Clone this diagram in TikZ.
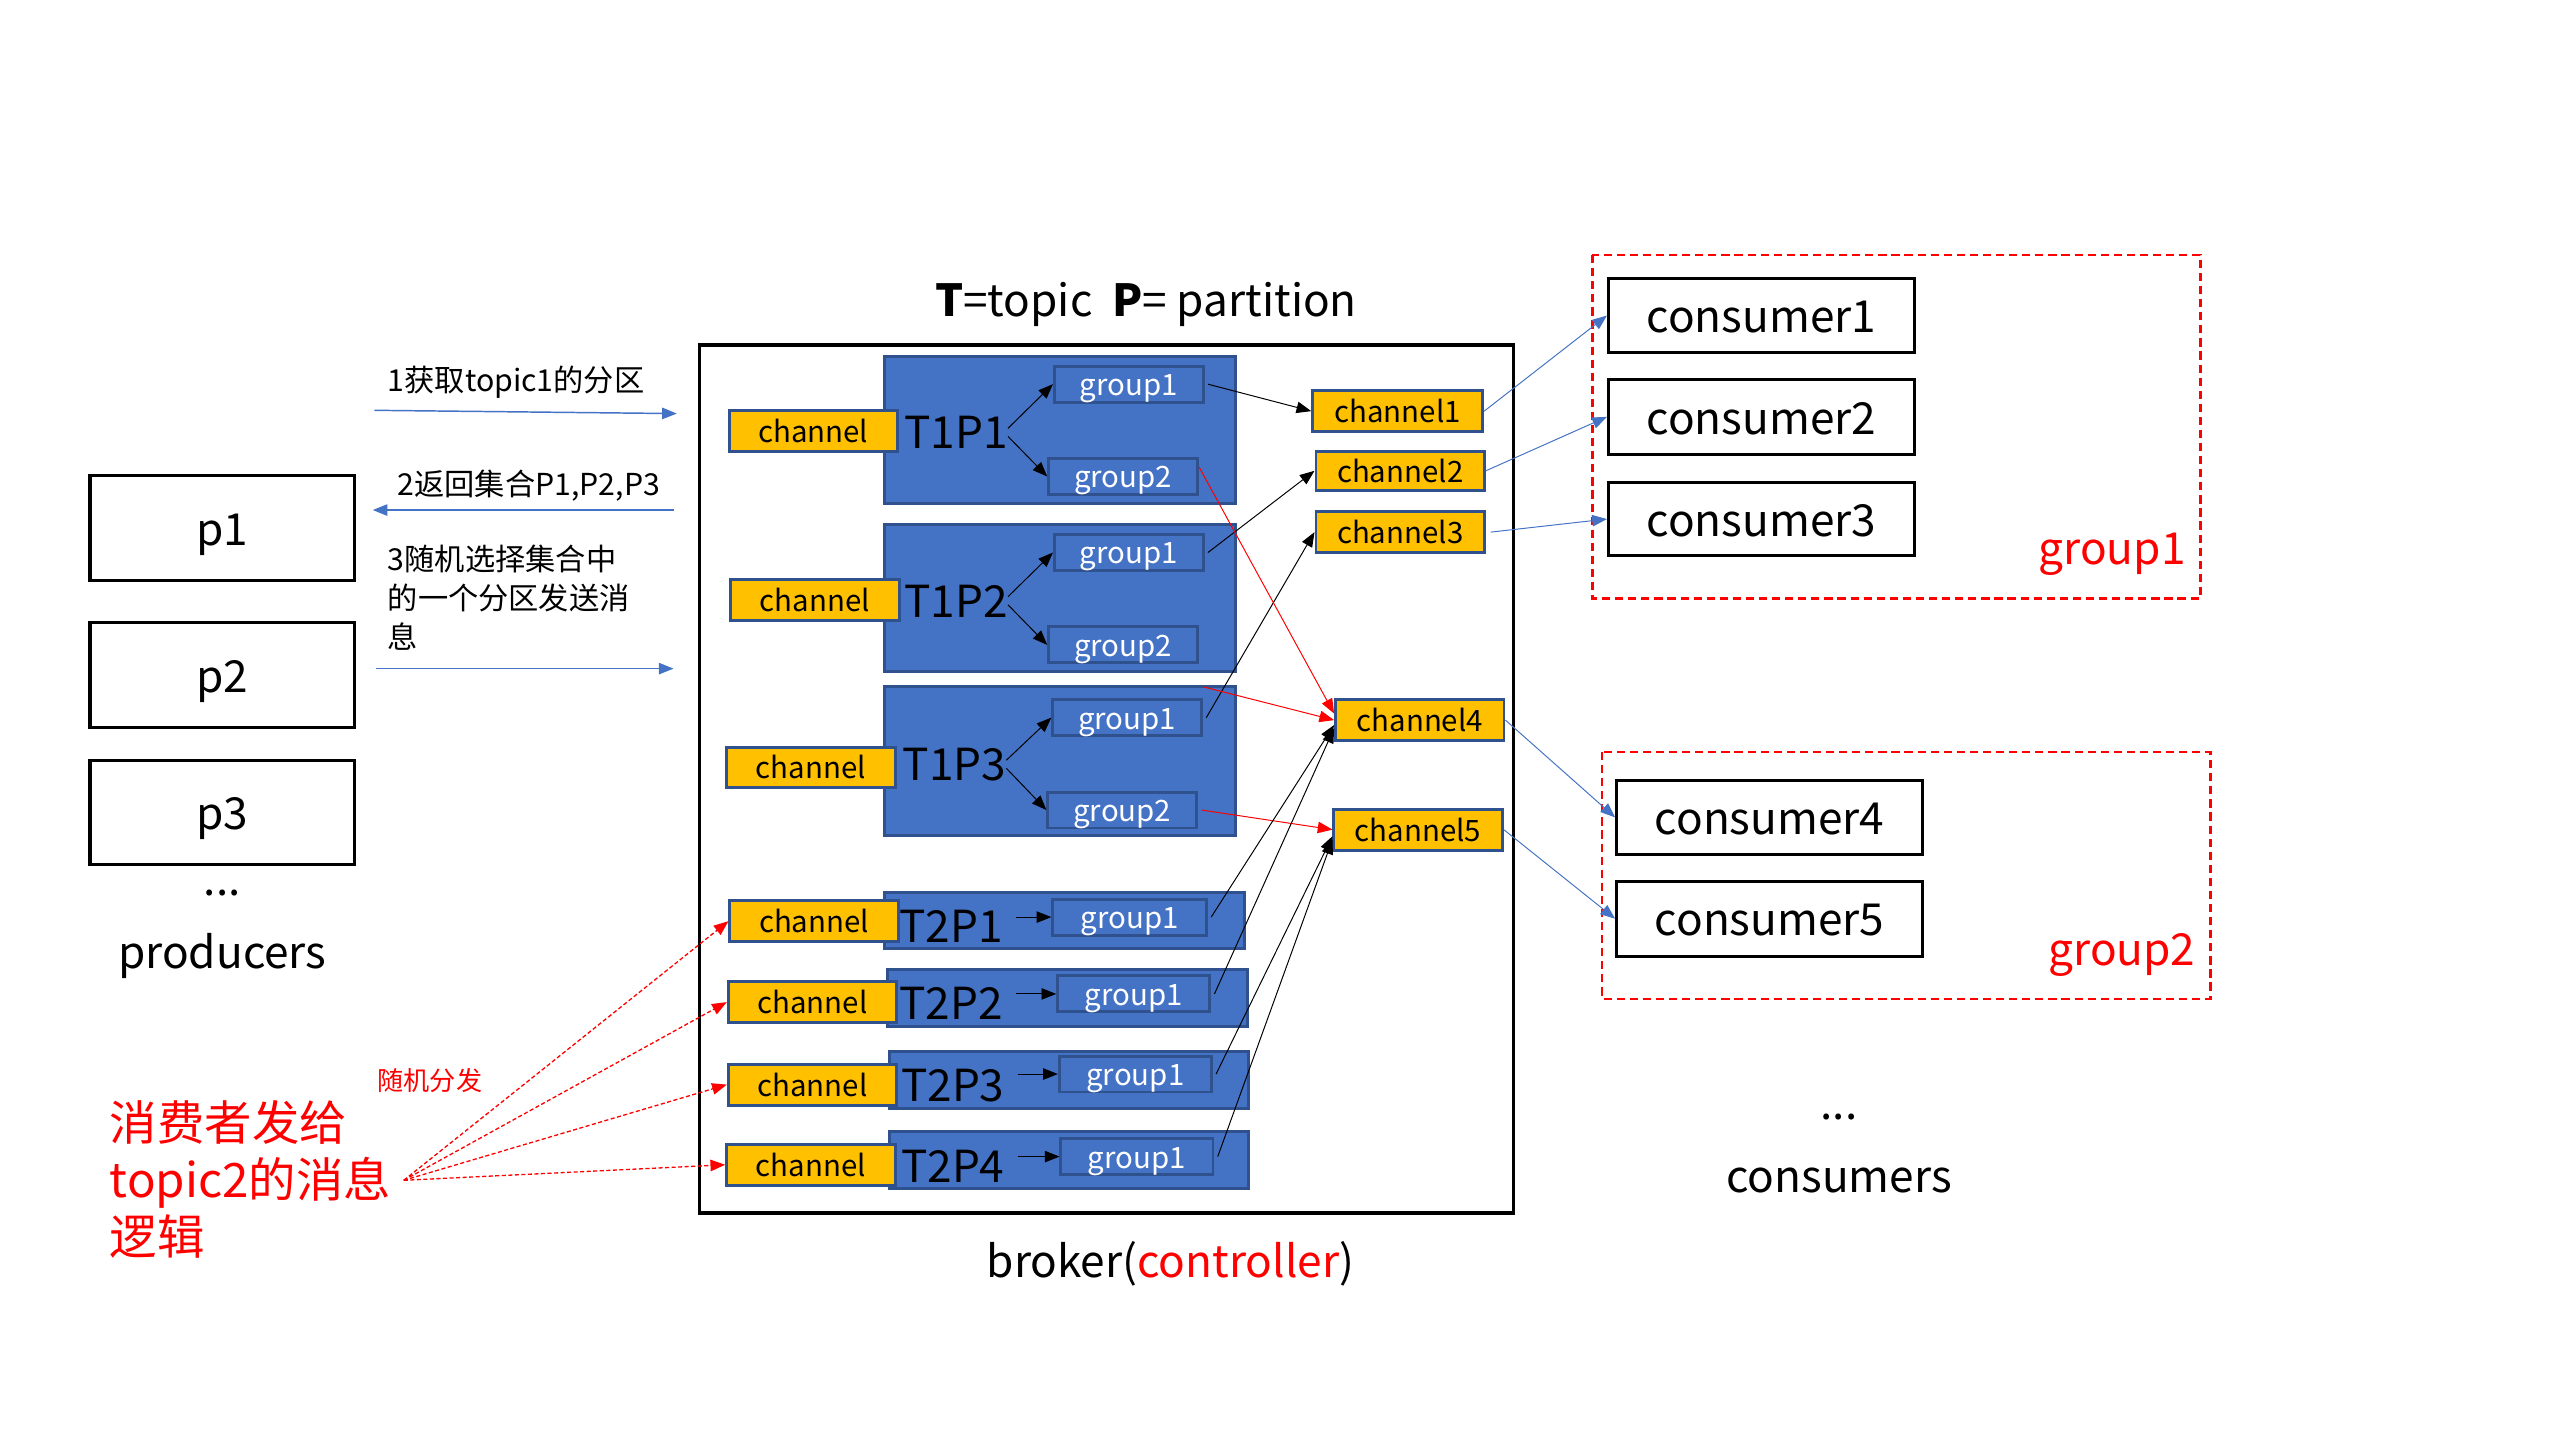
\documentclass[tikz,border=0pt]{standalone}
\usepackage{fontspec}
\setmainfont{Noto Sans CJK SC}
\usetikzlibrary{arrows.meta}
\definecolor{pblue}{HTML}{4472C4}
\definecolor{pedge}{HTML}{2F528F}
\definecolor{pgold}{HTML}{FFC000}

\begin{document}
\begin{tikzpicture}[x=1pt, y=-1pt, line join=miter,
  big/.style = {inner sep=0pt, text height=21pt, text depth=0pt, font=\fontsize{27}{32}\selectfont},
  small/.style = {inner sep=0pt, text height=14.5pt, text depth=0pt, font=\fontsize{18.5}{24}\selectfont},
  box/.style = {draw, line width=2pt, inner sep=0pt, minimum width=187pt, minimum height=45pt, text height=21pt, text depth=0pt, font=\fontsize{27}{32}\selectfont},
  prod/.style = {box, minimum width=162pt, minimum height=64pt},
  part/.style = {draw=pedge, fill=pblue, line width=1.8pt, inner sep=0pt, minimum width=215pt},
  chan/.style = {draw=pedge, fill=pgold, line width=1.8pt, inner sep=0pt, minimum width=103pt, minimum height=25pt, text height=14pt, text depth=0pt, font=\fontsize{18}{20}\selectfont},
  grp/.style = {draw=pedge, fill=pblue, line width=1.8pt, inner sep=0pt, minimum width=91pt, minimum height=22pt, text height=14pt, text depth=0pt, text=white, font=\fontsize{18}{20}\selectfont},
  link/.style = {-{Triangle[length=9pt,width=7pt]}, line width=0.6pt},
  flow/.style = {link, pblue, line width=0.9pt},
  rnd/.style = {link, red, dash pattern=on 2.5pt off 1.5pt, line width=0.8pt},
  gframe/.style = {red, line width=1.6pt, dash pattern=on 5pt off 3pt}]
  \useasboundingbox (0,0) rectangle (1566,881);

  \node[big] (title) at (701,183) {\textbf{T}=topic\ \ \textbf{P}= partition};
  \draw[line width=2pt] (428,211) rectangle (926,742);
  \node[big] (broker) at (716,771) {broker(\textcolor{red}{controller})};

  \node[prod] (p1) at (136,323) {p1};
  \node[prod] (p2) at (136,413) {p2};
  \node[prod] (p3) at (136,497) {p3};
  \node[big, anchor=base, text height=, text depth=] (pdots) at (136,548) {...};
  \node[big] (producers) at (136,582) {producers};

  \node[small, anchor=west] (s1) at (237,232) {1获取topic1的分区};
  \node[small, anchor=west] (s2) at (243,296) {2返回集合P1,P2,P3};
  \node[inner sep=0pt, font=\fontsize{18.5}{24}\selectfont, anchor=north west, align=left] (s3) at (237,333) {3随机选择集合中\\的一个分区发送消\\息};
  \coordinate (a1) at (229,251);
  \coordinate (b1) at (414,253);
  \coordinate (a2) at (412,312);
  \coordinate (b2) at (228,312);
  \coordinate (a3) at (230,409);
  \coordinate (b3) at (412,409);
  \draw[flow] (a1) -- (b1);
  \draw[flow] (a2) -- (b2);
  \draw[flow] (a3) -- (b3);

  \node[part, minimum height=90pt] (P11) at (648.5,263) {};
  \node[part, minimum height=90pt] (P12) at (648.5,366) {};
  \node[part, minimum height=91pt] (P13) at (648.5,465.5) {};
  \node[part, minimum width=220pt, minimum height=34pt] (P21) at (651,563) {};
  \node[part, minimum width=220pt, minimum height=35pt] (P22) at (653,610.5) {};
  \node[part, minimum width=220pt, minimum height=35pt] (P23) at (654,660.5) {};
  \node[part, minimum width=220pt, minimum height=35pt] (P24) at (654,709.5) {};

  \node[chan] (e11) at (497.5,263.5) {channel};
  \node[chan] (e12) at (498.5,367) {channel};
  \node[chan] (e13) at (496,469.5) {channel};
  \node[chan] (e21) at (498,563.5) {channel};
  \node[chan] (e22) at (497,613) {channel};
  \node[chan] (e23) at (497,663.5) {channel};
  \node[chan] (e24) at (496,712.5) {channel};

  \node[big, anchor=west] (l11) at (553,264) {T1P1};
  \node[big, anchor=west] (l12) at (553,367) {T1P2};
  \node[big, anchor=west] (l13) at (552,467) {T1P3};
  \node[big, anchor=west] (l21) at (550,566) {T2P1};
  \node[big, anchor=west] (l22) at (550,613) {T2P2};
  \node[big, anchor=west] (l23) at (551,663) {T2P3};
  \node[big, anchor=west] (l24) at (551,713) {T2P4};

  \node[grp] (g11) at (690.5,235) {group1};
  \node[grp] (g12) at (687,291.5) {group2};
  \node[grp] (g21) at (690.5,338) {group1};
  \node[grp] (g22) at (687,394.5) {group2};
  \node[grp] (g31) at (689.5,439) {group1};
  \node[grp] (g32) at (686.5,495.5) {group2};
  \node[grp, minimum width=94pt] (t21) at (691,561) {group1};
  \node[grp, minimum width=93pt] (t22) at (693.5,608) {group1};
  \node[grp, minimum width=93pt] (t23) at (694.5,657) {group1};
  \node[grp, minimum width=93pt] (t24) at (695.5,707.5) {group1};

  \draw[link] ([yshift=2pt]l11.east) -- (g11.west);
  \draw[link] ([yshift=-3pt]l11.east) -- (g12.west);
  \draw[link] ([yshift=2pt]l12.east) -- (g21.west);
  \draw[link] ([yshift=-3pt]l12.east) -- (g22.west);
  \draw[link] ([yshift=2pt]l13.east) -- (g31.west);
  \draw[link] ([yshift=-3pt]l13.east) -- (g32.west);
  \draw[link] ([xshift=8pt]l21.east |- t21.west) -- (t21.west);
  \draw[link] ([xshift=8pt]l22.east |- t22.west) -- (t22.west);
  \draw[link] ([xshift=8pt]l23.east |- t23.west) -- (t23.west);
  \draw[link] ([xshift=8pt]l24.east |- t24.west) -- (t24.west);

  \node[chan, minimum width=104pt] (c1) at (855,251.5) {channel1};
  \node[chan, minimum height=24pt] (c2) at (856.5,288) {channel2};
  \node[chan] (c3) at (856.5,325.5) {channel3};
  \node[chan] (c4) at (868.5,440.5) {channel4};
  \node[chan] (c5) at (867.5,507.5) {channel5};

  \draw[link] ([xshift=2pt]g11.east) -- (c1.west);
  \draw[link] ([xshift=2pt]g21.east) -- (c2.west);
  \draw[link] ([xshift=2pt]g31.east) -- (c3.west);
  \draw[link, red] ([yshift=6pt]g12.east) -- ([yshift=4pt]c4.west);
  \draw[link, red] ([yshift=7pt]g31.north east) -- (c4.west);
  \draw[link, red] ([xshift=2pt]g32.east) -- (c5.west);
  \draw[link] ([xshift=2pt]t21.east) -- ([yshift=-3pt]c4.west);
  \draw[link] ([xshift=2pt]t22.east) -- ([yshift=-5pt]c4.west);
  \draw[link] ([xshift=2pt]t23.east) -- ([yshift=-4pt]c5.west);
  \draw[link] ([xshift=2pt]t24.east) -- ([yshift=-6pt]c5.west);

  \draw[gframe] (974,156) rectangle (1346,366);
  \draw[gframe] (980,460) rectangle (1352,611);
  \node[box] (k1) at (1077.5,193) {consumer1};
  \node[box, minimum height=46pt] (k2) at (1077.5,255) {consumer2};
  \node[box] (k3) at (1077.5,317.5) {consumer3};
  \node[box] (k4) at (1082.5,500) {consumer4};
  \node[box, minimum height=46pt] (k5) at (1082.5,562) {consumer5};
  \node[big, text=red] (gl1) at (1292,335) {group1};
  \node[big, text=red] (gl2) at (1298,580) {group2};
  \node[big, anchor=base, text height=, text depth=] (kdots) at (1125,685) {...};
  \node[big] (consumers) at (1125,719) {consumers};

  \draw[link, pblue] (c1.east) -- (k1.west);
  \draw[link, pblue] (c2.east) -- (k2.west);
  \draw[link, pblue] ([xshift=3pt]c3.east) -- (k3.west);
  \draw[link, pblue] (c4.east) -- (k4.west);
  \draw[link, pblue] (c5.east) -- (k5.west);

  \node[inner sep=0pt, anchor=north west, align=left, text=red, font=\fontsize{29}{35}\selectfont] (logic) at (67,673) {消费者发给\\topic2的消息\\逻辑};
  \node[inner sep=0pt, text=red, font=\fontsize{16}{18}\selectfont] (rand) at (263,661) {随机分发};
  \coordinate (src) at (247,722);
  \draw[rnd] (src) -- (e21.west);
  \draw[rnd] (src) -- (e22.west);
  \draw[rnd] (src) -- (e23.west);
  \draw[rnd] (src) -- (e24.west);
\end{tikzpicture}
\end{document}
